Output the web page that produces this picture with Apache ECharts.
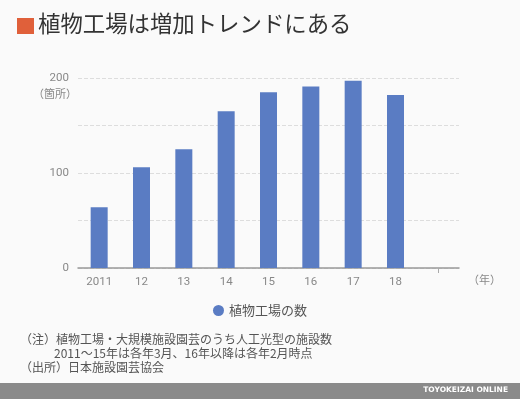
<!DOCTYPE html>
<html><head><meta charset="utf-8">
<script src="https://cdn.jsdelivr.net/npm/echarts@6/dist/echarts.min.js"></script>
<style>html,body{margin:0;padding:0;background:#fafafa}#c{width:520px;height:399px}</style>
</head><body><div id="c"></div>
<script>
const categories = ['2011', '12', '13', '14', '15', '16', '17', '18', ''];
const values = [64, 106, 125, 165, 185, 191, 197, 182, null];
const seriesName = '植物工場の数';
const yTicks = [0, 100, 200];
const titleText = '植物工場は増加トレンドにある';
const noteLines = ['（注）植物工場・大規模施設園芸のうち人工光型の施設数', '2011～15年は各年3月、16年以降は各年2月時点', '（出所）日本施設園芸協会'];
const font = '"Noto Sans CJK JP", "Noto Sans", sans-serif';

const chart = echarts.init(document.getElementById('c'));
chart.setOption({
  backgroundColor: '#fafafa',
  textStyle: { fontFamily: font },
  grid: { left: 78, right: 61, top: 78, bottom: 131 },
  legend: {
    data: [seriesName], left: 'center', top: 299, icon: 'circle',
    itemWidth: 11, itemHeight: 11, itemGap: 7,
    textStyle: { fontSize: 13, color: '#555', fontFamily: font }
  },
  xAxis: [{
    type: 'category', data: categories,
    axisLine: { lineStyle: { color: '#999', width: 1.5 } },
    axisTick: { show: false },
    axisLabel: { color: '#888', fontSize: 11.5, margin: 8, fontFamily: 'Roboto, sans-serif' }
  }, {
    type: 'value', min: 0, max: categories.length, position: 'bottom',
    axisLine: { show: false }, splitLine: { show: false }, axisLabel: { show: false },
    axisTick: { show: true, customValues: [categories.length - 0.5], length: 5, lineStyle: { color: '#aaa' } }
  }],
  yAxis: {
    type: 'value', min: 0, max: 200, interval: 50,
    axisLine: { show: false }, axisTick: { show: false },
    splitLine: { lineStyle: { color: '#ddd', type: 'dashed' } },
    axisLabel: {
      color: '#888', fontSize: 11.5, margin: 9, fontFamily: 'Roboto, sans-serif',
      formatter: function (v) { return yTicks.indexOf(v) >= 0 ? String(v) : ''; }
    }
  },
  series: [{
    name: seriesName, type: 'bar', data: values, barWidth: 17, xAxisIndex: 0,
    itemStyle: { color: '#5a7cc3' }
  }],
  graphic: [
    { type: 'rect', shape: { x: 17, y: 18, width: 17, height: 16 }, style: { fill: '#e0603a' } },
    { type: 'text', left: 38, top: 12, style: { text: titleText, fontSize: 22.4, fill: '#333', fontFamily: font } },
    { type: 'text', left: 33, top: 88, style: { text: '（箇所）', fontSize: 11, fill: '#888', fontFamily: font } },
    { type: 'text', left: 468, top: 274, style: { text: '（年）', fontSize: 11, fill: '#888', fontFamily: font } },
    { type: 'text', left: 20, top: 333, style: { text: noteLines[0], fontSize: 12, fill: '#555', fontFamily: font } },
    { type: 'text', left: 54, top: 347, style: { text: noteLines[1], fontSize: 12, fill: '#555', fontFamily: font } },
    { type: 'text', left: 20, top: 361, style: { text: noteLines[2], fontSize: 12, fill: '#555', fontFamily: font } },
    { type: 'rect', shape: { x: 0, y: 383, width: 520, height: 16 }, style: { fill: '#8a8a8a' } },
    { type: 'text', right: 12, top: 386.5, style: { text: 'TOYOKEIZAI ONLINE', fontSize: 7.5, fontWeight: 'bold', fill: '#fff', fontFamily: '"DejaVu Sans", sans-serif' } }
  ]
});
</script></body></html>
